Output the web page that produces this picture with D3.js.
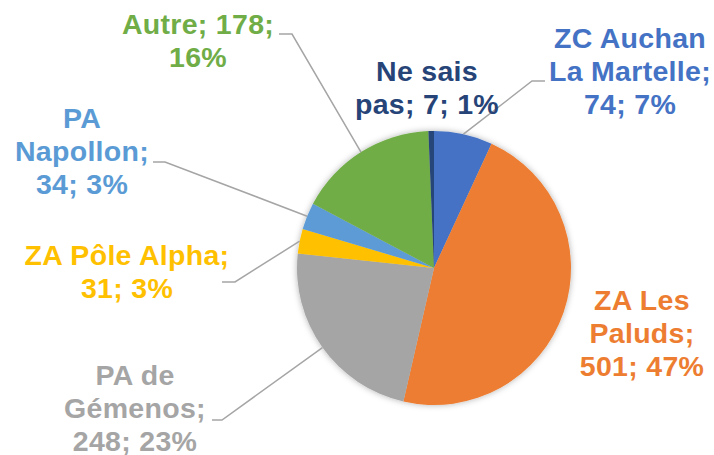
<!DOCTYPE html>
<html>
<head>
<meta charset="utf-8">
<script src="https://cdn.jsdelivr.net/npm/d3@7"></script>
<style>
  html, body { margin: 0; padding: 0; background: #fff; }
</style>
</head>
<body>
<div id="chart"></div>
<script>
// data (clockwise from 12 o'clock)
const categories = ["ZC Auchan La Martelle", "ZA Les Paluds", "PA de Gémenos", "ZA Pôle Alpha", "PA Napollon", "Autre", "Ne sais pas"];
const values = [74, 501, 248, 31, 34, 178, 7];
const percentLabels = ["7%", "47%", "23%", "3%", "3%", "16%", "1%"];
// how each data label is broken into lines
const labelLines = [
  ["ZC Auchan", "La Martelle;", "74; 7%"],
  ["ZA Les", "Paluds;", "501; 47%"],
  ["PA de", "Gémenos;", "248; 23%"],
  ["ZA Pôle Alpha;", "31; 3%"],
  ["PA", "Napollon;", "34; 3%"],
  ["Autre; 178;", "16%"],
  ["Ne sais", "pas; 7; 1%"]
];
const colors = ["#4472C4", "#ED7D31", "#A5A5A5", "#FFC000", "#5B9BD5", "#70AD47", "#264478"];

const width = 714, height = 455;
const cx = 434, cy = 268, radius = 137;
const fontSize = 28.5, lineHeight = 33;

// label placement: x centre, first baseline, elbow of the leader (null = no leader)
const labelPos = [
  { x: 630, y: 48,  leader: [[545, 81], [532, 81]] },
  { x: 642, y: 310, leader: null },
  { x: 135, y: 385, leader: [[212, 420], [222, 420]] },
  { x: 127, y: 265, leader: [[222, 282], [235, 282]] },
  { x: 82,  y: 128, leader: [[153, 162], [165, 162]] },
  { x: 198, y: 34,  leader: [[279, 34], [292, 34]] },
  { x: 427, y: 81,  leader: null }
];

const table = categories.map((c, i) => ({ name: c, value: values[i], pct: percentLabels[i], lines: labelLines[i], color: colors[i], pos: labelPos[i] }));

const svg = d3.select("#chart").append("svg")
  .attr("width", width)
  .attr("height", height);

const defs = svg.append("defs");
const shadow = defs.append("filter").attr("id", "shadow")
  .attr("x", "-20%").attr("y", "-20%").attr("width", "140%").attr("height", "140%");
shadow.append("feDropShadow")
  .attr("dx", 0).attr("dy", 0)
  .attr("stdDeviation", 3)
  .attr("flood-color", "#000")
  .attr("flood-opacity", 0.3);

const pie = d3.pie().sort(null).value(d => d.value).startAngle(0).endAngle(2 * Math.PI);
const arcs = pie(table);
const arc = d3.arc().innerRadius(0).outerRadius(radius);
const edgeArc = d3.arc().innerRadius(radius).outerRadius(radius);

const g = svg.append("g").attr("transform", `translate(${cx},${cy})`);

g.append("g").attr("filter", "url(#shadow)")
  .selectAll("path")
  .data(arcs)
  .enter().append("path")
  .attr("d", arc)
  .attr("fill", d => d.data.color);

// leader lines
svg.append("g")
  .selectAll("polyline")
  .data(arcs.filter(d => d.data.pos.leader))
  .enter().append("polyline")
  .attr("points", d => {
    const e = edgeArc.centroid(d);
    const pts = d.data.pos.leader.concat([[cx + e[0], cy + e[1]]]);
    return pts.map(p => p.join(",")).join(" ");
  })
  .attr("fill", "none")
  .attr("stroke", "#A5A5A5")
  .attr("stroke-width", 1.5);

// data labels
const labels = svg.append("g")
  .selectAll("text")
  .data(table)
  .enter().append("text")
  .attr("text-anchor", "middle")
  .attr("font-family", "Arial, 'Liberation Sans', sans-serif")
  .attr("font-weight", "bold")
  .attr("font-size", fontSize)
  .attr("letter-spacing", 0.3)
  .attr("fill", d => d.color);

labels.selectAll("tspan")
  .data(d => d.lines.map((t, i) => ({ t, i, pos: d.pos })))
  .enter().append("tspan")
  .attr("x", d => d.pos.x)
  .attr("y", d => d.pos.y + d.i * lineHeight)
  .text(d => d.t);
</script>
</body>
</html>
